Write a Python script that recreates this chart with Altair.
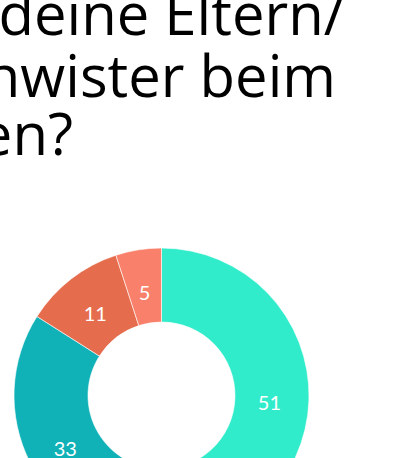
import altair as alt
import pandas as pd

# Data
answers = ["Ja, oft", "Manchmal", "Selten", "Nie"]
values = [51, 33, 11, 5]
colors = ["#31ECCB", "#10B2B8", "#E56C4C", "#F9806A"]

title_lines = ["Helfen dir deine Eltern/", "Geschwister beim", "Lernen?"]

df = pd.DataFrame({"answer": answers, "value": values, "idx": list(range(len(values)))})
tdf = pd.DataFrame({"line": title_lines, "row": list(range(len(title_lines)))})

CX, CY = 161.5, 395.5
R_OUT, R_IN = 147.5, 73.5

color_scale = alt.Scale(domain=answers, range=colors)

base = alt.Chart(df).encode(
    theta=alt.Theta("value:Q", stack=True),
    order=alt.Order("idx:Q"),
    x=alt.value(CX),
    y=alt.value(CY),
)

arcs = base.mark_arc(radius=R_OUT, innerRadius=R_IN, stroke="#ffffff", strokeWidth=0.6).encode(
    color=alt.Color("answer:N", scale=color_scale, legend=None)
)

labels = base.mark_text(
    radius=108, dy=5, font="Lato", fontSize=20, color="#ffffff"
).encode(text=alt.Text("value:Q"))

# Title lines (cropped on the left like the reference)
title_x = [345, 336, 73]
title_y = [35, 97, 155]
tdf["tx"] = title_x
tdf["ty"] = title_y

title = alt.Chart(tdf).mark_text(
    align="right", baseline="alphabetic", font="Open Sans", fontSize=58, color="#000000"
).encode(
    x=alt.X("tx:Q", scale=alt.Scale(domain=[0, 401], range=[0, 401]), axis=None),
    y=alt.Y("ty:Q", scale=alt.Scale(domain=[0, 458], range=[0, 458]), axis=None),
    text="line:N",
)

chart = alt.layer(arcs, labels, title).properties(
    width=401, height=458, autosize=alt.AutoSizeParams(type="none"), padding=0
).configure_view(strokeWidth=0).resolve_scale(theta="independent")

chart.save("out.html", embed_options={"renderer": "svg", "actions": False})
